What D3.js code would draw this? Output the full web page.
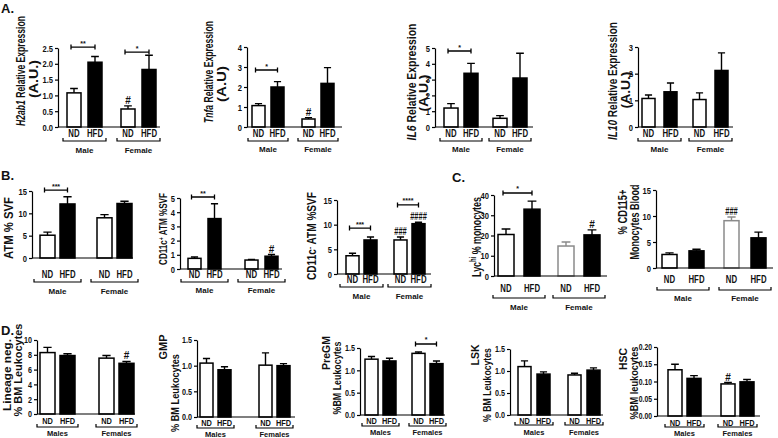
<!DOCTYPE html>
<html><head><meta charset="utf-8">
<script src="https://cdn.jsdelivr.net/npm/d3@7"></script>
<style>
body{margin:0;background:#fff}
text{font-family:"Liberation Sans",Arial,Helvetica,sans-serif;font-weight:bold;fill:#111}
</style>
</head><body><script>
// ---------------- DATA ----------------
const sexes = ["Male", "Female"];
const sexesPl = ["Males", "Females"];
const diets = ["ND", "HFD"];
// bar order: Male ND, Male HFD, Female ND, Female HFD ; "Hi" = top of error bar
const h2ab1 = [1.08, 2.05, 0.57, 1.82],  h2ab1Hi = [1.22, 2.23, 0.67, 2.27];
const tnfa = [1.07, 2.00, 0.40, 2.18],   tnfaHi = [1.17, 2.27, 0.47, 2.97];
const il6 = [1.20, 3.40, 0.55, 3.10],    il6Hi = [1.48, 4.03, 0.72, 4.67];
const il10 = [1.07, 1.32, 1.03, 2.12],   il10Hi = [1.20, 1.65, 1.28, 2.78];
const atm = [5.1, 12.1, 9.0, 12.2],      atmHi = [5.8, 13.7, 9.7, 12.7];
const cd11cPos = [0.75, 3.55, 0.63, 0.90], cd11cPosHi = [0.85, 4.60, 0.68, 1.02];
const cd11cNeg = [3.7, 6.9, 6.9, 10.2],  cd11cNegHi = [4.2, 7.5, 7.5, 10.5];
const lyc = [20.5, 33.0, 14.8, 20.3],    lycHi = [23.2, 37.0, 16.8, 22.8];
const cd115 = [2.6, 3.3, 9.1, 5.8],      cd115Hi = [2.9, 3.6, 9.8, 6.9];
const linNeg = [8.3, 7.9, 7.55, 6.85],   linNegHi = [9.0, 8.15, 7.9, 7.1];
const gmp = [1.05, 0.92, 1.01, 1.00],    gmpHi = [1.14, 0.98, 1.25, 1.04];
const pregm = [1.25, 1.21, 1.38, 1.15],  pregmHi = [1.31, 1.27, 1.41, 1.21];
const lsk = [1.10, 0.93, 0.91, 1.02],    lskHi = [1.23, 0.98, 0.95, 1.07];
const hsc = [0.134, 0.109, 0.093, 0.099], hscHi = [0.150, 0.117, 0.097, 0.106];
// tick values
const ticksA1 = [0, 0.5, 1.0, 1.5, 2.0, 2.5];
const ticksA2 = [0, 1, 2, 3, 4];
const ticksA3 = [0, 1, 2, 3, 4, 5];
const ticksA4 = [0, 1, 2, 3];
const ticks15 = [0, 5, 10, 15];
const ticksB2 = [0, 1, 2, 3, 4, 5];
const ticksC1 = [0, 10, 20, 30, 40];
const ticksD1 = [0, 2, 4, 6, 8, 10];
const ticks15d = [0, 0.5, 1.0, 1.5];
const ticksD5 = [0, 0.05, 0.10, 0.15, 0.20];

// ---------------- DRAW ----------------
const svg = d3.select("body").append("svg").attr("width", 778).attr("height", 438);
svg.append("rect").attr("width", 778).attr("height", 438).attr("fill", "#fff");

function ylabel(g, l, size) {
  const t = g.append("text")
    .attr("text-anchor", "middle").attr("dy", "0.35em")
    .attr("font-size", l.size || size);
  l.parts.forEach(p => {
    const ts = t.append("tspan").text(p[0]);
    if (p[1] === "i") ts.attr("font-style", "italic");
    if (p[1] === "sup") ts.attr("baseline-shift", "super").attr("font-size", "65%");
  });
  let k = 1;
  if (l.len) k = l.len / t.node().getComputedTextLength();
  t.attr("transform", `translate(${l.x},${l.y}) rotate(-90) scale(${k},1)`);
}

function panel(c) {
  const g = svg.append("g");
  const y = d3.scaleLinear().domain([0, c.ymax]).range([c.yBot, c.yTop]);
  const B = 2 * c.bw + c.gi;
  const gx = d3.scaleBand().domain(c.groups).range([c.xs, c.xs + 2 * B + c.gg])
    .paddingInner(c.gg / (B + c.gg)).paddingOuter(0);
  const dx = d3.scaleBand().domain(diets).range([0, B])
    .paddingInner(c.gi / (c.bw + c.gi)).paddingOuter(0);
  const rows = c.mean.map((m, i) => ({ grp: c.groups[i >> 1], diet: diets[i % 2], m, hi: c.hi[i], i }));
  const bx = d => gx(d.grp) + dx(d.diet);
  const col = d => (c.gray || []).includes(d.i) ? "#8a8a8a" : "#000";

  // error bars
  const cap = c.bw * 0.55;
  rows.forEach(d => {
    const cx = bx(d) + c.bw / 2;
    g.append("path")
      .attr("d", `M${cx},${y(d.m)}V${y(d.hi)}M${cx - cap / 2},${y(d.hi)}H${cx + cap / 2}`)
      .attr("stroke", col(d)).attr("stroke-width", 1.4).attr("fill", "none");
  });
  // bars
  g.selectAll("rect.bar").data(rows).join("rect")
    .attr("x", bx).attr("width", c.bw)
    .attr("y", d => y(d.m)).attr("height", d => c.yBot - y(d.m))
    .attr("fill", d => d.diet === "ND" ? "#fff" : "#000")
    .attr("stroke", col).attr("stroke-width", 1.5);

  // y axis
  const tsx = 0.8;
  const ya = d3.axisLeft(y).tickValues(c.ticks).tickFormat(d3.format(c.fmt))
    .tickSize(3).tickSizeOuter(0).tickPadding(2);
  const ag = g.append("g").attr("transform", `translate(${c.ax},0)`).call(ya);
  ag.attr("font-size", c.tickSize || 9.5);
  ag.selectAll(".tick text").attr("x", -5 / tsx).attr("transform", `scale(${tsx},1)`);
  ag.selectAll("path,line").attr("stroke", "#000").attr("stroke-width", 1.2);
  // x axis baseline
  g.append("line").attr("x1", c.ax).attr("x2", c.axEnd).attr("y1", c.yBot).attr("y2", c.yBot)
    .attr("stroke", "#000").attr("stroke-width", 1.2);

  // diet labels
  rows.forEach(d => {
    g.append("text").attr("transform", `translate(${bx(d) + c.bw / 2},${c.labY}) scale(${c.sx || 0.78},1)`)
      .attr("text-anchor", "middle").attr("dy", "0.35em").attr("font-size", c.labSize || 10)
      .text(d.diet);
  });
  // group brackets + labels
  c.groups.forEach(gr => {
    const x1 = gx(gr) - (c.bm || 4), x2 = gx(gr) + B + (c.bm || 4);
    g.append("path").attr("d", `M${x1},${c.brY - 3}V${c.brY}H${x2}V${c.brY - 3}`)
      .attr("stroke", "#000").attr("stroke-width", 1.2).attr("fill", "none");
    g.append("text").attr("x", (x1 + x2) / 2).attr("y", c.grpY).attr("dy", "0.35em")
      .attr("text-anchor", "middle").attr("font-size", c.grpSize || 8).text(gr);
  });
  // significance brackets
  (c.sig || []).forEach(s => {
    const a = rows[s.grp * 2], b = rows[s.grp * 2 + 1];
    const x1 = bx(a) + c.bw / 2 - 3, x2 = bx(b) + c.bw / 2, yy = y(s.v);
    g.append("path").attr("d", `M${x1},${yy - 2.5}V${yy + 2.5}M${x1},${yy}H${x2}M${x2},${yy - 2.5}V${yy + 2.5}`)
      .attr("stroke", "#000").attr("stroke-width", 1.3).attr("fill", "none");
    g.append("text").attr("x", (x1 + x2) / 2).attr("y", yy - 1.5).attr("text-anchor", "middle")
      .attr("font-size", 7).text(s.t);
  });
  // hash marks
  (c.hash || []).forEach(h => {
    const d = rows[h.bar];
    g.append("text").attr("transform", `translate(${bx(d) + c.bw / 2},${y(d.hi) - 2}) scale(${h.t.length > 1 ? 0.75 : 1},1)`)
      .attr("text-anchor", "middle").attr("font-size", h.size || 10).attr("font-weight", "normal")
      .attr("fill", "#333").text(h.t);
  });
  // y labels
  c.ylab.forEach(l => ylabel(g, l, c.ylSize || 11.5));
}

// Panel letters
[["A.", 1, 13], ["B.", 1, 180], ["C.", 452, 182], ["D.", 1, 335]].forEach(p =>
  svg.append("text").attr("x", p[1]).attr("y", p[2]).attr("font-size", 13).text(p[0]));

// ---- A ----
panel({ mean: h2ab1, hi: h2ab1Hi, groups: sexes, ax: 58, axEnd: 160, yTop: 48, yBot: 127, ymax: 2.5,
  ticks: ticksA1, fmt: ".1f", xs: 67, bw: 14, gi: 7, gg: 19, labY: 133, brY: 141, grpY: 150,
  sig: [{ grp: 0, v: 2.53, t: "**" }, { grp: 1, v: 2.37, t: "*" }], hash: [{ bar: 2, t: "#" }],
  ylab: [{ x: 20, y: 71, len: 110, size: 13.5, parts: [["H2ab1", "i"], [" Relative Expression"]] },
         { x: 34, y: 79, len: 38, size: 12.5, parts: [["(A.U.)"]] }] });
panel({ mean: tnfa, hi: tnfaHi, groups: sexes, ax: 247, axEnd: 342, yTop: 47, yBot: 127, ymax: 4,
  ticks: ticksA2, fmt: "d", xs: 252, bw: 13, gi: 6, gg: 18, labY: 133, brY: 141, grpY: 149,
  sig: [{ grp: 0, v: 2.85, t: "*" }], hash: [{ bar: 2, t: "#" }],
  ylab: [{ x: 208, y: 72, len: 102, size: 13.5, parts: [["Tnfa", "i"], [" Relative Expression"]] },
         { x: 222, y: 84, len: 36, size: 12.5, parts: [["(A.U)"]] }] });
panel({ mean: il6, hi: il6Hi, groups: sexes, ax: 435, axEnd: 533, yTop: 48, yBot: 127, ymax: 5,
  ticks: ticksA3, fmt: "d", xs: 444, bw: 14, gi: 6, gg: 15, labY: 133, brY: 141, grpY: 149,
  sig: [{ grp: 0, v: 4.81, t: "*" }],
  ylab: [{ x: 411, y: 82, len: 117, size: 13.5, parts: [["IL6", "i"], ["  Relative Expression"]] },
         { x: 424, y: 93, len: 37, size: 12.5, parts: [["(A.U.)"]] }] });
panel({ mean: il10, hi: il10Hi, groups: sexes, ax: 638, axEnd: 733, yTop: 47, yBot: 127, ymax: 3,
  ticks: ticksA4, fmt: "d", xs: 642, bw: 13, gi: 9, gg: 16, labY: 133, brY: 141, grpY: 149,
  ylab: [{ x: 612, y: 81, len: 118, size: 13.5, parts: [["IL10", "i"], [" Relative Expression"]] },
         { x: 626, y: 90, len: 37, size: 12.5, parts: [["(A.U.)"]] }] });

// ---- B ----
panel({ mean: atm, hi: atmHi, groups: sexes, ax: 32, axEnd: 133, yTop: 191, yBot: 258, ymax: 15,
  ticks: ticks15, fmt: "d", xs: 40, bw: 15, gi: 5, gg: 22, labY: 274, brY: 282, grpY: 291, bm: 6,
  sig: [{ grp: 0, v: 15.2, t: "***" }],
  ylab: [{ x: 8, y: 228, len: 62, size: 13.5, parts: [["ATM % SVF"]] }] });
panel({ mean: cd11cPos, hi: cd11cPosHi, groups: sexes, ax: 180, axEnd: 282, yTop: 198, yBot: 269, ymax: 5,
  ticks: ticksB2, fmt: "d", xs: 188, bw: 13, gi: 7, gg: 24, labY: 274, brY: 282, grpY: 290, bm: 7,
  sig: [{ grp: 0, v: 5.07, t: "**" }], hash: [{ bar: 3, t: "#" }],
  ylab: [{ x: 163, y: 229, len: 72, size: 11.5, parts: [["CD11c"], ["+", "sup"], [" ATM %SVF"]] }] });
panel({ mean: cd11cNeg, hi: cd11cNegHi, groups: sexes, ax: 337, axEnd: 431, yTop: 200, yBot: 274, ymax: 15,
  ticks: ticks15, fmt: "d", xs: 346, bw: 13, gi: 5, gg: 17, labY: 279, brY: 287, grpY: 296, bm: 6,
  sig: [{ grp: 0, v: 9.3, t: "***" }, { grp: 1, v: 14.0, t: "****" }],
  hash: [{ bar: 2, t: "###" }, { bar: 3, t: "####" }],
  ylab: [{ x: 312, y: 236, len: 88, size: 12.5, parts: [["CD11c"], ["-", "sup"], [" ATM %SVF"]] }] });

// ---- C ----
panel({ mean: lyc, hi: lycHi, groups: sexes, ax: 494, axEnd: 607, yTop: 195, yBot: 276, ymax: 40,
  ticks: ticksC1, fmt: "d", xs: 498, bw: 16, gi: 10, gg: 18, labY: 288, brY: 298, grpY: 307, bm: 5,
  gray: [2], sig: [{ grp: 0, v: 41, t: "*" }], hash: [{ bar: 3, t: "#" }],
  ylab: [{ x: 476, y: 237, len: 80, size: 13, parts: [["Lyc"], ["hi", "sup"], [" % monocytes"]] }] });
panel({ mean: cd115, hi: cd115Hi, groups: sexes, ax: 656, axEnd: 773, yTop: 190, yBot: 268, ymax: 15,
  ticks: ticks15, fmt: "d", xs: 662, bw: 15, gi: 12, gg: 20, labY: 279, brY: 290, grpY: 298, bm: 5,
  gray: [2], hash: [{ bar: 2, t: "###" }],
  ylab: [{ x: 623, y: 212, len: 45, size: 12, parts: [["% CD115+"]] },
         { x: 635, y: 222, len: 75, size: 12, parts: [["Monocytes Blood"]] }] });

// ---- D ----
panel({ mean: linNeg, hi: linNegHi, groups: sexesPl, ax: 37, axEnd: 135, yTop: 340, yBot: 414, ymax: 10,
  ticks: ticksD1, fmt: "d", xs: 40, bw: 15, gi: 5, gg: 24, labY: 421, brY: 427, grpY: 433, bm: 3,
  hash: [{ bar: 3, t: "#" }], labSize: 9.5, grpSize: 7.5, tickSize: 9,
  ylab: [{ x: 7, y: 375, len: 72, size: 11, parts: [["Lineage neg."]] },
         { x: 18, y: 370, len: 93, size: 11, parts: [["% BM Leukocytes"]] }] });
panel({ mean: gmp, hi: gmpHi, groups: sexesPl, ax: 197, axEnd: 295, yTop: 340, yBot: 417, ymax: 1.5,
  ticks: ticks15d, fmt: ".1f", xs: 200, bw: 13, gi: 5, gg: 28, labY: 423, brY: 428, grpY: 434, bm: 3,
  labSize: 9.5, grpSize: 7.5, tickSize: 9,
  ylab: [{ x: 163, y: 347, size: 11, parts: [["GMP"]] },
         { x: 175, y: 393, len: 78, size: 11, parts: [["% BM Leukocytes"]] }] });
panel({ mean: pregm, hi: pregmHi, groups: sexesPl, ax: 360, axEnd: 445, yTop: 348, yBot: 415, ymax: 1.5,
  ticks: ticks15d, fmt: ".1f", xs: 365, bw: 13, gi: 5, gg: 16, labY: 421, brY: 426, grpY: 432, bm: 3,
  sig: [{ grp: 1, v: 1.59, t: "*" }], labSize: 9.5, grpSize: 7.5, tickSize: 9,
  ylab: [{ x: 326, y: 353, size: 10.5, parts: [["PreGM"]] },
         { x: 337, y: 378, len: 73, size: 10.5, parts: [["%BM Leukocytes"]] }] });
panel({ mean: lsk, hi: lskHi, groups: sexesPl, ax: 510, axEnd: 603, yTop: 349, yBot: 415, ymax: 1.5,
  ticks: ticks15d, fmt: ".1f", xs: 518, bw: 13, gi: 6, gg: 18, labY: 421, brY: 425, grpY: 432, bm: 3,
  labSize: 9.5, grpSize: 7.5, tickSize: 9,
  ylab: [{ x: 475, y: 355, size: 10.5, parts: [["LSK"]] },
         { x: 487, y: 385, len: 74, size: 10.5, parts: [["% BM Leukocytes"]] }] });
panel({ mean: hsc, hi: hscHi, groups: sexesPl, ax: 657, axEnd: 760, yTop: 347, yBot: 416, ymax: 0.2,
  ticks: ticksD5, fmt: ".2f", xs: 668, bw: 14, gi: 5, gg: 20, labY: 423, brY: 427, grpY: 433, bm: 3,
  hash: [{ bar: 2, t: "#" }], labSize: 9.5, grpSize: 7.5, tickSize: 8.5,
  ylab: [{ x: 623, y: 359, size: 10.5, parts: [["HSC"]] },
         { x: 634, y: 383, len: 73, size: 10.5, parts: [["%BM leukocytes"]] }] });
</script></body></html>
